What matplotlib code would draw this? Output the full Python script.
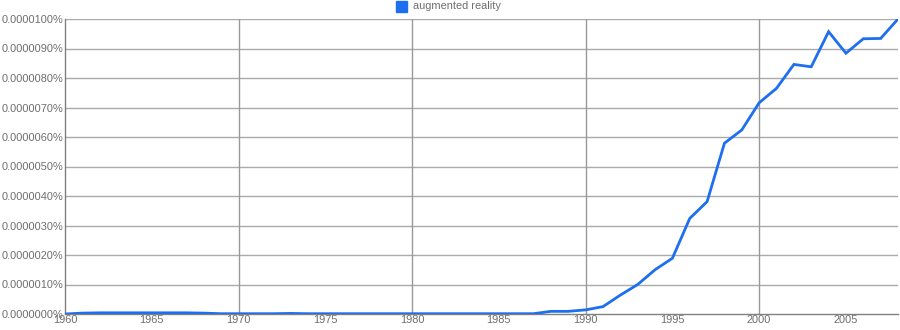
import matplotlib
matplotlib.use("Agg")
import matplotlib.pyplot as plt
from matplotlib.ticker import FuncFormatter, MultipleLocator

plt.rcParams['font.family'] = ['Liberation Sans', 'DejaVu Sans']

# data (values in units of 1e-6 %)
years = list(range(1960, 2009))
freq = [0.00, 0.03, 0.04, 0.04, 0.04, 0.04, 0.04, 0.04, 0.03, 0.01,
        0.01, 0.01, 0.01, 0.02, 0.01, 0.01, 0.01, 0.01, 0.01, 0.01,
        0.01, 0.01, 0.01, 0.01, 0.01, 0.01, 0.01, 0.01, 0.09, 0.09,
        0.14, 0.25, 0.64, 1.00, 1.50, 1.89, 3.24, 3.81, 5.79, 6.24,
        7.16, 7.65, 8.46, 8.38, 9.57, 8.84, 9.33, 9.34, 10.0]
label = "augmented reality"
x_ticks = list(range(1960, 2010, 5))
grid_years = [1970, 1980, 1990, 2000]

blue = '#1d6ff0'
grey = '#6e6e6e'
fs = 7.9

fig = plt.figure(figsize=(9, 3.3), dpi=100)
ax = fig.add_axes([65 / 900, 16 / 330, 833 / 900, 295 / 330])

ax.plot(years, freq, color=blue, lw=2, solid_joinstyle='miter', zorder=3)

ax.set_xlim(1960, 2008)
ax.set_ylim(0, 10)
ax.set_xticks(x_ticks)
ax.yaxis.set_major_locator(MultipleLocator(1))
ax.yaxis.set_major_formatter(FuncFormatter(lambda v, p: "%.7f%%" % (v * 1e-6)))

for y in range(1, 11):
    ax.axhline(y, color='#aaaaaa', lw=1, zorder=1)
for g in grid_years:
    ax.axvline(g, color='#999999', lw=1, zorder=1)

for s in ['top', 'right']:
    ax.spines[s].set_visible(False)
for s in ['left', 'bottom']:
    ax.spines[s].set_color('#808080')
    ax.spines[s].set_linewidth(1)

ax.tick_params(axis='both', length=0, labelsize=fs, colors=grey)
ax.tick_params(axis='y', pad=1.5)
ax.tick_params(axis='x', pad=1)

# legend at the top
fig.patches.append(plt.Rectangle((396 / 900, 1 - 12 / 330), 11 / 900, 11 / 330,
                                 transform=fig.transFigure, color=blue))
fig.text(413 / 900, 1 - 6 / 330, label, fontsize=fs, color=grey, va='center', ha='left')

fig.savefig("out.png", dpi=100)
